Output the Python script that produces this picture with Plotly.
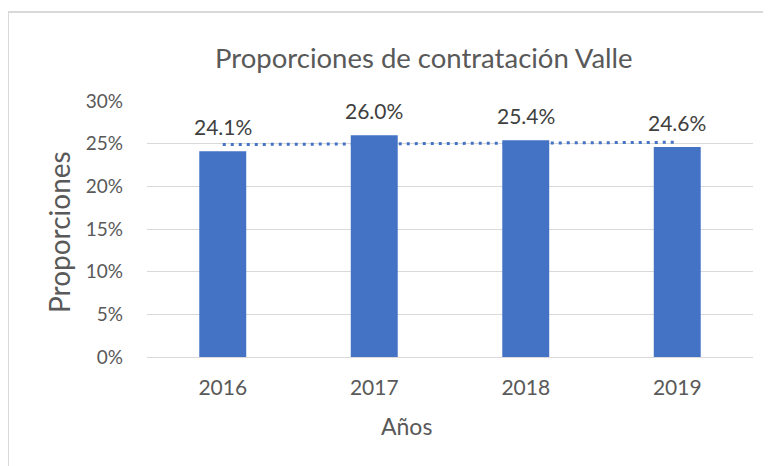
import numpy as np
import plotly.graph_objects as go

years = ["2016", "2017", "2018", "2019"]
values = [0.241, 0.260, 0.254, 0.246]
labels = ["24.1%", "26.0%", "25.4%", "24.6%"]
ytick_vals = [0, 0.05, 0.10, 0.15, 0.20, 0.25, 0.30]
ytick_text = ["0%", "5%", "10%", "15%", "20%", "25%", "30%"]

# Linear trendline (as Excel computes it) from the data
xi = np.arange(len(values))
slope, intercept = np.polyfit(xi, values, 1)
trend = list(intercept + slope * xi)

OFF = 8  # page body margin
W, H = 771 - OFF, 466 - OFF
# plot area in screen pixels: x 147..753, y 101..357
L, T = 147 - OFF, 101 - OFF
pw, ph = 606, 256
R = W - L - pw
B = H - T - ph

def px(x):
    return (x - OFF - L) / pw

def py(y):
    return (T + ph - (y - OFF)) / ph

FONT = "Lato"
GRAY = "#595959"

fig = go.Figure()
fig.add_trace(go.Bar(x=years, y=values, width=0.31, marker=dict(color="#4472C4", line=dict(width=0)),
                     hoverinfo="skip", showlegend=False))
fig.add_trace(go.Scatter(x=years, y=trend, mode="lines",
                         line=dict(color="#4472C4", width=3, dash="3px,5px"),
                         hoverinfo="skip", showlegend=False))

for i, (v, t) in enumerate(zip(values, labels)):
    fig.add_annotation(x=i, y=v, xref="x", yref="y", text=t, showarrow=False,
                       xanchor="center", yanchor="middle", yshift=25,
                       font=dict(family=FONT, size=21, color="#404040"))

fig.add_annotation(text="Proporciones de contratación Valle", xref="paper", yref="paper",
                   x=px(424), y=py(57), xanchor="center", yanchor="middle", showarrow=False,
                   font=dict(family=FONT, size=27.5, color=GRAY))
fig.add_annotation(text="Años", xref="paper", yref="paper",
                   x=px(406), y=py(426), xanchor="center", yanchor="middle", showarrow=False,
                   font=dict(family=FONT, size=23, color=GRAY))
fig.add_annotation(text="Proporciones", xref="paper", yref="paper", textangle=-90,
                   x=px(59), y=py(232), xanchor="center", yanchor="middle", showarrow=False,
                   font=dict(family=FONT, size=28, color=GRAY))

fig.add_shape(type="rect", xref="paper", yref="paper",
              x0=px(8), y0=py(12), x1=px(1000), y1=py(700),
              line=dict(color="#D9D9D9", width=2), fillcolor="rgba(0,0,0,0)", layer="below")

fig.update_layout(
    width=W, height=H,
    margin=dict(l=L, r=R, t=T, b=B, pad=0, autoexpand=False),
    paper_bgcolor="white", plot_bgcolor="white",
    showlegend=False,
    font=dict(family=FONT, color=GRAY),
)
fig.update_xaxes(type="category", range=[-0.5, 3.5], showgrid=False, showline=False, zeroline=False,
                 automargin=False,
                 ticks="", tickfont=dict(family=FONT, size=21, color=GRAY), ticklabelstandoff=16)
fig.update_yaxes(range=[0, 0.30], tickvals=ytick_vals, ticktext=ytick_text, automargin=False,
                 showgrid=True, gridcolor="#D9D9D9", gridwidth=1.3, zeroline=True,
                 zerolinecolor="#D9D9D9", zerolinewidth=1.3, showline=False, ticks="",
                 tickfont=dict(family=FONT, size=19, color=GRAY), ticklabelstandoff=23)

fig.write_html("out.html")
